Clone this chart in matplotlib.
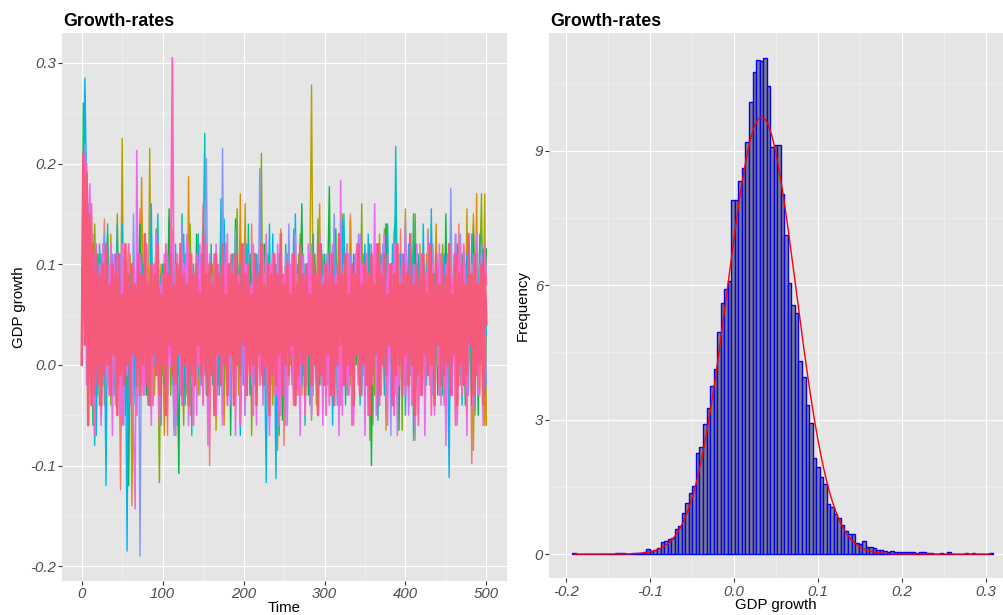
import numpy as np
import matplotlib
matplotlib.use("Agg")
import matplotlib.pyplot as plt

# ---------------------------------------------------------------------------
# Simulated GDP growth paths, one value every 2 periods (in percent)
# ---------------------------------------------------------------------------
time = np.arange(0, 501, 2)

path_01 = [0, 12, 18, 14, 9, 11, 4, 13, -2, 8, 5, 10, -3, 7, 14.5, 2, 6, -1, 9, 4,
           8, 0, 11, 3, -12.4, 6, 9, 1, 7, -6.5, 5, 10, 2, 8, -2, 6, 15.5, 3, 0, 9,
           4, -3, 7, 11, 1, 5, 9, -1, 6, 3, 10, 2, 7, -7, 8, 4, 13.5, 0, 5, 9,
           1, 6, -2, 10, 3, 8, 5, -5, 11, 2, 7, 4, 9, 0, 6, 16, -1, 5, 8, -10,
           3, 9, 1, 7, -3, 6, 10, 2, 5, 8, -2, 4, 11, 6, 0, 9, 3, 7, -5.5, 5,
           10, 1, 6, 8, -1, 14, 4, 2, 9, 5, 0, 7, 3, 11, -3, 6, 9, 1, 8, 4,
           -2, 10, 5, 2, 7, -8, 9, 3, 12, 1, 6, 8, -1, 4, 10, 2, 7, 5, -3, 9,
           3, 11, 0, 6, 8, 1, 13, 4, -2, 7, 9, 2, 5, -4, 10, 6, 1, 8, 3, 11,
           -1, 7, 4, 9, 2, -3, 15, 5, 8, 0, 6, 10, 3, -2, 7, 9, 1, 5, 11, 4,
           -6, 8, 2, 6, 12, 0, 7, 3, 9, -1, 5, 10, 4, 8, -3, 6, 2, 13.5, 1, 7,
           9, -2, 5, 3, 10, 6, -7.5, 8, 2, 12, 4, 0, 7, 9, 1, 6, -3, 10, 5, 3,
           8, -1, 11, 4, 6, 2, 9, -4, 7, 5, 10, 1, 6, 14, -2, 8, 3, 7, 0, 9,
           4, -9.8, 6, 11, 2, 8, -3, 5, 10, 1, -5.5]
path_02 = [0, 14, 16, 10, 12, 7, 15, 3, 9, -5, 6, 11, 2, 8, -4, 10, 5, 1, 13, 4,
           7, -2, 9, 3, 6, 11, 0, 8, 4, -6, 10, 2, 7, 5, -1, 9, 3, 18.6, 6, 1,
           8, 4, -3, 11, 2, 6, 9, 0, 5, 10, 3, -7, 8, 6, 1, 14, 4, 7, -2, 9,
           5, 0, 10, 3, 7, -3, 18.7, 2, 8, 6, 1, 9, 4, -2, 11, 5, 7, 3, 0, 8,
           6, 10, -1, 4, 8, 2, 15, 5, -6, 7, 3, 9, 1, 6, 11, -2, 7, 4, 17, 0,
           8, 5, 2, 10, -3, 6, 9, 1, 7, 4, -1, 11, 6, 3, 8, 0, 10, 5, 2, 9,
           7, -8.5, 4, 13.5, 1, 6, 9, 3, -2, 8, 5, 10, 0, 7, 4, 11, -3, 6, 2, 9,
           1, 8, 5, -1, 10, 3, 7, 16, 0, 6, 9, 4, -2, 8, 2, 11, 5, 1, 7, -5,
           10, 3, 6, 0, 9, 4, 14.5, -2, 7, 5, 2, 8, -3, 11, 6, 1, 9, 4, 10, 0,
           5, 7, 3, -1, 13, 6, 2, 8, -6.5, 9, 4, 10, 1, 7, 5, -2, 11, 3, 8, 6,
           15.5, 0, 9, 4, -3, 7, 2, 10, 5, 1, 8, 6, -1, 11, 3, 9, 4, 0, 7, 14,
           2, 5, 10, -2, 8, 4, 1, 9, 6, 3, 11, -5.5, 7, 5, 2, 10, 0, 8, 4, 6,
           9, 1, 15, 3, 17, -2, 6, 10, 4, -6, 3]
path_03 = [0, 10, 20, 13, 8, 16, 5, 11, 2, 7, -3, 9, 4, 12, 6, 1, 8, -2, 10, 3,
           7, 5, 0, 9, 4, 22.5, 2, 8, -4, 6, 11, -14, 3, 7, 1, 9, 5, -2, 10, 4,
           6, 0, 21.5, 3, 8, -3, 5, 9, 2, 7, -1, 10, 4, 6, 14.5, 1, 8, 3, -7, 9,
           5, 2, 11, 0, 7, 4, 9, -2, 6, 10, 3, 8, -3, 5, 1, 13.5, 6, 4, 9, 0,
           7, 2, 10, -6.5, 6, 3, 8, 11, 1, 5, 9, -1, 4, 7, 2, 10, 6, -3, 8, 3,
           5, 16, 0, 6, 9, 4, -2, 7, 1, 11, 3, 8, 5, -1, 10, 2, 6, 9, -4, 4,
           7, 1, 11, 5, 3, 8, -2, 6, 10, 0, 4, 9, 2, -3, 7, 13, 5, 1, 8, 6,
           -1, 10, 27.8, 3, 6, -4, 9, 4, 2, 11, 5, 0, 8, 6, 10, 3, -2, 7, 1, 9,
           4, 15, 2, 8, -3, 5, 10, 0, 6, 3, 9, -1, 7, 4, 11, 2, 6, 8, -7.5, 5,
           1, 10, 3, 7, 0, 9, 4, -2, 14, 6, 2, 8, 5, -3, 10, 1, 7, 4, 9, 3,
           6, -2, 11, 5, 0, 8, 3, 10, -5, 7, 4, 9, 1, 6, 13.5, -1, 5, 8, 2, 10,
           3, 7, -3, 9, 4, 0, 11, 6, 2, 8, 5, 1, 10, -2, 7, 4, 9, 3, 15.5, 0,
           6, 8, -8.5, 5, 10, 2, 7, 13, 3, 17, -6]
path_04 = [0, 16, 14, 18, 11, 6, 9, 2, 14, 5, 8, -2, 11, 4, 7, 1, 9, 6, -4, 10,
           3, 7, 15, 0, 5, 8, -1, 10, 4, 6, 2, 9, -3, 7, 4, 11, 1, 6, 8, -2,
           10, 5, 3, 9, 0, 7, 13.5, 2, -11.7, 6, 4, 8, 1, 11, 5, -3, 9, 3, 7, 0,
           6, 10, 2, -6, 8, 5, 1, 14, 4, 7, -1, 9, 3, 6, 11, 0, 8, 5, 2, 10,
           4, -2, 7, 1, 9, 6, 3, 11, -3, 5, 8, 2, 10, 4, 0, 7, 15.5, 1, 6, 9,
           -2, 5, 3, 11, 7, -7, 9, 2, 6, 10, 4, 21, 1, 8, 5, -1, 10, 3, 7, 0,
           9, 6, 2, 13, -3, 5, 8, 1, 10, 4, 7, -2, 6, 3, 11, 0, 9, 5, 2, 8,
           4, 10, -5.5, 7, 1, 6, 14.5, 3, 9, -1, 5, 8, 2, 11, 4, 0, 7, 10, -3, 6,
           3, 9, 5, 1, 12, 6, -2, 8, 4, 10, 0, 7, 3, 16, -1, 9, 5, 2, 11, 6,
           4, -3, 8, 1, 10, 6, 3, 13.5, -2, 7, 9, 2, 5, 11, 0, 8, 4, 7, -6.5, 10,
           3, 6, 1, 9, 5, -2, 15, 4, 8, 0, 7, 10, -3, 6, 2, 11, 5, 1, 9, 4,
           -1, 8, 3, 12, 6, 0, 10, 4, 7, 2, 9, 5, -2, 7, 11, 3, 6, 0, 10, 4,
           2, 8, 14, -5, 6, 3, 9, 17, 1, 7, 11.5]
path_05 = [0, 26, 17, 12, 15, 4, 10, -6, 8, 3, 11, 5, -3, 9, 2, 7, 13, 0, 6, 10,
           -2, 8, 4, 11, 1, 6, 9, -5, 7, -12, 5, 10, 2, 8, -1, 6, 14, 3, 9, 4,
           -3, 7, 1, 10, 5, 0, 8, 11, 2, 6, 9, -2, 4, 7, 15.5, 3, 6, -6, 10, 1,
           -10.8, 8, 5, 2, 11, 6, -1, 9, 4, 7, 3, 13, 0, 6, 9, 2, 8, -3, 5, 10,
           1, 7, 4, 11, -2, 6, 9, 3, 0, 8, 5, 10, -7, 7, 2, 14.5, 4, 6, 1, 9,
           3, -1, 8, 5, 11, 0, 7, 10, -3, 6, 2, 9, 4, 12, 1, 5, -2, 8, 6, 3,
           10, 0, 7, 4, -5.5, 9, 2, 11, 5, 1, 8, 6, -1, 10, 3, 7, 16, 0, 4, 9,
           -3, 5, 2, 8, 11, 1, 6, -2, 10, 4, 7, 3, 9, 17.7, 0, 6, 4, 13.5, -4, 8,
           2, 10, 5, 1, 7, -1, 9, 3, 11, 6, 0, 8, 4, -3, 10, 6, 2, 9, 5, -10,
           7, 1, 11, 4, 6, -2, 8, 3, 14, 5, 9, 0, 6, 2, 10, 4, -6.5, 7, 1, 11,
           5, 8, 3, -1, 9, 6, 12, 2, 7, 0, 10, 4, -2, 8, 1, 6, 11, 3, 9, 5,
           -3, 7, 2, 10, 4, 15, 0, 6, 8, 1, 5, 9, -1, 7, 3, 11, 6, -4, 10, 2,
           8, 4, 13, 0, 6, -5, 9, 3, 11.5, 5, 11.5]
path_06 = [0, 15, 19, 11, 16, 9, 3, 12, 1, 6, 10, -4, 7, 2, 9, 5, 14, -1, 8, 3,
           6, 11, 0, 4, 8, -3, 10, 2, 7, 5, 1, 9, 6, -2, 11, 3, 7, 4, 10, 0,
           8, 2, 5, 13.5, -1, 6, 9, 3, 7, -6, 10, 4, 1, 8, 6, 11, -2, 5, 9, 2,
           7, 0, 15, 3, -3, 9, 5, 8, 1, 10, 4, 6, -1, 11, 2, 8, 5, 0, 9, 3,
           12, -2, 6, 4, 10, 1, 7, -5, 8, 5, 2, 9, 3, 11, 6, -1, 10, 4, 7, 0,
           8, 5, 2, 14, -3, 7, 1, 9, 4, 6, 10, -1, 5, 3, 8, 11, 0, 6, 9, 2,
           4, 7, -7, 10, 5, 1, 12, 3, 8, 6, -2, 9, 2, 7, 4, 11, 6, -1, 10, 3,
           8, 5, 0, 13, 3, 7, -3, 9, 1, 6, 11, 4, 8, 2, -2, 10, 5, 7, 0, 9,
           3, 14.5, 6, -4, 8, 1, 10, 4, 7, 2, 9, 0, 11, 5, 3, 8, -2, 6, 12, 4,
           1, 7, 10, -5.5, 5, 9, 2, 11, 6, 0, 8, 4, 6, 13, 15, 3, -1, 9, 5, 10,
           2, 7, -4, 8, 4, 15, 1, 6, 11, 3, 9, 5, 0, 10, 7, -2, 14, 4, 8, 1,
           6, 11, 3, -3, 9, 5, 2, 10, 7, 0, 8, 4, 12, 6, -1, 9, 3, 7, 11, 2,
           5, -4, 10, 1, 8, 6, 13, 3, 7, -3, 6]
path_07 = [0, 18, 24, 15, 10, 13, 5, 9, -8, 7, 3, 12, 6, -2, 9, 4, 11, 1, 7, 10,
           -3, 6, 2, 9, 5, 14, 0, 8, 4, -6, 7, 10, 3, 6, 1, 9, -2, 11, 5, 8,
           2, -4, 7, 4, 10, 0, 6, 15, 3, 9, 5, 1, 11, -3, 8, 6, 2, 9, 4, 10,
           -1, 7, 3, 13, 5, 0, 9, 6, -7, 8, 4, 10, 2, 7, -2, 11, 23, 5, 1, 9,
           6, 3, -3, 10, 8, 2, 16.5, 4, 0, 7, 9, 5, 1, 11, -1, 6, 3, 8, 10, 2,
           7, -5, 12, 4, 6, 9, 0, 5, 11, 3, 8, 1, 10, -2, 6, 4, 14, 2, 7, 9,
           0, 5, 11, 3, -3, 8, 6, 10, 1, 7, 4, 13.5, -1, 9, 2, 6, 10, 5, -6, 8,
           3, 7, 1, 11, 6, -2, 9, 4, 12, 0, 10, 5, 2, 8, -3, 7, 11, 1, 6, 9,
           3, -1, 15, 5, 8, 0, 10, 4, 7, 2, 11, 6, -4, 9, 3, 7, 1, 13, 5, 8,
           -2, 10, 4, 6, 2, 11, 8, -3, 9, 5, 7, 0, 12, 3, 21.7, 6, 1, 10, 4, -1,
           9, 5, 8, 2, 11, -7.5, 6, 3, 10, 7, 1, 14, 4, -2, 8, 5, 9, 0, 6, 11,
           3, 7, -3, 10, 2, 9, 5, 12, 1, 6, 8, -1, 11, 4, 7, 0, 10, 3, 5, 9,
           2, 13, 6, -4, 9, 3, 7, 11, 0, 8, 4]
path_08 = [0, 20, 28.5, 17, 14, 8, 12, 3, 10, -7, 6, 11, 2, 9, 5, -12, 7, 1, 10, 4,
           8, -3, 14, 3, 6, 0, 9, 5, -18.5, 7, 2, 10, 4, -4, 8, 11, 1, 6, 3, 9,
           -2, 7, 5, 16, 0, 8, 4, 10, 2, 6, 9, 3, -1, 11, 6, 1, 8, 4, 12, -6,
           5, 10, 2, 7, -4, 9, 3, 11, 6, 0, 8, 4, 13, 1, 6, -2, 10, 5, 3, 9,
           0, 7, 11, 4, 9, -3, 5, 2, 14.5, 6, 3, 10, -1, 8, 5, 1, 11, 7, -7, 4,
           9, 2, 6, 12, 0, 8, 4, -2, 10, 5, 3, 11, 7, 1, -11.7, 6, 9, 2, 13, 4,
           -11.3, 8, 5, 10, 3, 7, -3, 11, 1, 6, 9, 4, 15, 0, 7, 5, -2, 10, 3, 8,
           6, -4, 11, 2, 9, 4, 7, 1, 12, 5, 0, 10, 3, 8, 6, -6, 11, 4, 9, 2,
           7, 13.5, -1, 5, 10, 3, 8, 0, 6, 11, 4, -2, 9, 2, 7, 12, 5, -4, 10, 3,
           8, 1, 6, 11, 4, 0, 9, 7, -3, 14, 5, 2, 10, 6, -1, 8, 3, 11, 4, 9,
           -5, 7, 12, 1, 6, 10, 3, -2, 8, 5, 11, 0, 7, 4, 9, 2, 15.5, -3, 6, 10,
           3, 8, 5, -1, 11, 6, 2, -11.2, 9, 4, 7, 13, 0, 10, 3, -4, 8, 5, 11, 1,
           6, 9, -2, 4, 12, 7, 2, 10, -5, 8, 3]
path_09 = [0, 17, 22, 19, 9, 14, 6, 10, 1, 8, 4, -3, 10, 6, 13, 2, 8, -1, 7, 11,
           3, 9, 5, 0, 11, 6, -6, 8, 2, 10, 7, 1, 15, 4, -2, 9, -19, 6, 3, 11,
           0, 8, 5, -3, 10, 2, 7, 12, 4, 6, 9, -1, 3, 11, 5, 8, 1, -7, 10, 6,
           2, 7, 14, 4, 0, 9, 5, 11, -2, 8, 6, 3, 10, -3, 7, 1, 12, 20.5, 4, 9,
           -1, 5, 11, 2, 8, 6, 0, 21.5, 3, 10, 7, 4, -4, 9, 1, 13.5, 5, 8, 2, -2,
           10, 6, 3, 11, 0, 7, 4, 9, -3, 5, 19.5, 2, 8, 6, 12, 1, 10, -2, 7, 4,
           9, 0, 5, 11, 3, 8, -6, 6, 14, 2, 7, 10, 1, 4, -1, 9, 6, 11, 3, 0,
           8, 5, 12, -3, 7, 2, 10, 4, 6, 9, -2, 11, 3, 8, 1, 6, 15, 5, -4, 7,
           10, 4, 0, 9, 6, 2, 11, -1, 8, 3, 5, 13, 7, -3, 10, 4, 1, 9, 6, 0,
           11, 3, 8, 5, -2, 7, 12, 2, 9, 4, 6, -7, 10, 1, 8, 11, 3, 7, 0, 5,
           14.5, 2, 9, -1, 6, 4, 10, 8, 3, -3, 7, 11, 5, 1, 9, 6, -2, 12, 4, 8,
           0, 10, 3, 7, 5, -4, 11, 2, 17.5, 6, 9, 4, -1, 8, 13, 1, 6, 10, 3, -3,
           7, 5, 11, 2, 9, 0, 6, 12, 4, 8, -2]
path_10 = [0, 13, 21, -2, 12, 18, 7, -4, 11, 3, 9, 1, -6, 12, 5, 8, -2, 10, 4, -7,
           11, 6, 2, 9, -5, 12, 3, 7, -1, 10, 4, 8, -7, -14.3, 21.3, 5, 11, 0, 9, -3,
           12, 6, 2, -6, 10, 4, 13, 1, -5, 8, 3, 11, -4, 7, 9, 0, 12, 5, -7, 10,
           6, -3, 11, 2, 8, 13, -6, 4, 10, 1, 9, -5, 7, 12, 3, -2, 10, 6, -8, 11,
           4, 8, -4, 12, 1, 9, 5, -6, 10, 2, 13, -3, 7, 4, 11, -7, 6, 9, 0, 12,
           5, -5, 10, 3, 8, -2, 12, 6, -6, 9, 1, 11, -4, 7, 13, 2, -7, 10, 4, 8,
           -3, 12, 6, -5, 9, 3, 11, -6, 7, 10, 2, -4, 13, 5, 8, -7, 11, 4, 9, -2,
           12, 6, -5, 10, 1, 8, -3, 13, 5, -6, 9, 3, 11, -4, 7, 12, -2, 6, 10, -7,
           18.3, -5, 9, 4, 12, -3, 7, 10, -6, 11, 5, -2, 13, 1, 8, -7, 10, 6, -4, 12,
           3, 16, -5, 11, 7, -3, 9, 13, 2, -6, 10, 5, -4, 12, 8, -7, 11, 3, 9, -2,
           13, 6, -5, 10, 2, 8, -6, 12, 4, -3, 9, 11, -7, 5, 13, -2, 7, 10, -5, 8,
           3, 12, -4, 9, 6, -8, 11, 1, 10, -3, 7, 13, -6, 4, 12, -2, 9, 6, -7, 11,
           2, 10, -5, 8, 13, -3, 6, 11, -6, 9, 5]
path_11 = [0, 15, 4, 20, 13, 9, 16, 4, -7, 12, 2, 10, -5, 8, 11, 0, 7, -3, 12, 5,
           9, -4, 11, 3, 7, -6, 10, 1, 8, 12, -2, 6, 10, 4, -5, 11, 2, 9, -3, 7,
           12, 0, 8, 5, -4, 10, 3, 11, -6, 6, 9, 1, 12, -3, 7, 10, 30.5, 4, -5, 11,
           2, 8, -4, 10, 6, -2, 12, 3, 9, -6, 7, 11, 0, 5, 10, -4, 8, 12, 1, -3,
           9, 4, 11, -5, 6, 10, -2, 8, 3, 12, -4, 7, 10, 1, 11, -3, 6, 9, -6, 8,
           12, 2, -3, 10, 5, 8, -5, 11, 4, 7, -2, 9, 12, 0, 7, -4, 10, 6, 11, -3,
           5, 8, -6, 12, 3, 9, -2, 7, 10, 1, 11, -4, 6, 9, -3, 12, 4, 8, -5, 10,
           2, 7, 11, -2, 9, 5, -4, 12, 6, 0, 10, -5, 8, 3, 11, -3, 7, 9, 1, 12,
           -4, 6, 10, 4, -2, 11, 8, -6, 9, 5, 12, 0, -3, 10, 7, 2, 11, -5, 8, 6,
           -2, 9, 12, 3, -4, 10, 5, 8, -3, 11, 7, 1, 10, -5, 9, 12, -2, 6, 11, 4,
           -3, 8, 5, 12, -4, 10, 2, 9, -6, 7, 11, 3, -2, 9, 6, 12, -5, 8, 1, 10,
           4, -3, 11, 7, -4, 10, 5, 12, -2, 8, 9, -6, 6, 11, 2, -3, 12, 7, -5, 10,
           3, 8, -4, 11, 6, -2, 10, 9, -3, 12, 8]
path_12 = [0, 21, 2, 19, -6, 15, -4, 12, -3, 11, -2, 9, -4, 10, -1, 12, 0, 8, -3, 10,
           1, 9, -5, 11, -1, 7, -2, 12, 0, 9, -4, 10, 1, 8, -2, 11, -3, 9, 0, 13,
           -2, 8, -4, 10, 1, 9, -1, 12, -3, 7, 0, 10, -5, 9, 2, 11, -1, 8, -2, 10,
           1, 12, -3, 9, 0, 8, -4, 11, -1, 9, -2, 10, 2, 7, -1, 13, 0, 9, -3, 10,
           -1, 8, -5, 11, 1, 9, -2, 12, 0, 7, -3, 10, 1, 9, -4, 11, 0, 8, -1, 12,
           2, 9, -3, 10, -1, 7, 0, 11, -4, 9, 1, 12, -2, 8, 0, 10, -5, 9, -1, 11,
           -2, 9, 1, 13, -3, 8, 0, 10, -1, 7, 2, 11, -4, 8, -1, 12, 0, 9, -3, 10,
           1, 7, -2, 11, 0, 9, -5, 12, -1, 8, -2, 10, 1, 9, -3, 11, -4, 8, 0, 13,
           2, 9, -2, 11, 0, 7, -1, 10, -4, 9, 1, 12, -3, 8, 0, 10, -2, 9, -5, 11,
           -1, 8, 1, 12, -3, 9, 0, 11, -1, 7, 2, 10, -4, 9, -1, 12, 0, 8, -3, 10,
           1, 9, -2, 13, 0, 8, -5, 10, -1, 9, -3, 11, 1, 7, -1, 12, 0, 9, -4, 11,
           2, 8, -2, 10, -1, 9, 0, 12, -3, 7, 1, 11, -4, 9, 0, 10, -2, 8, -1, 13,
           2, 9, -3, 11, -1, 8, 0, 10, -4, 9, 4]

all_paths = [path_01, path_02, path_03, path_04, path_05, path_06,
             path_07, path_08, path_09, path_10, path_11, path_12]

# ---------------------------------------------------------------------------
# Pooled growth-rate histogram (density per bin) and fitted normal
# ---------------------------------------------------------------------------
bin_start = -0.1923
bin_width = 0.00421
density = [0.03, 0.00, 0.00, 0.00, 0.00, 0.00, 0.00, 0.00, 0.00, 0.00,
           0.00, 0.01, 0.02, 0.02, 0.02, 0.00, 0.01, 0.02, 0.03, 0.03,
           0.04, 0.11, 0.08, 0.09, 0.14, 0.28, 0.29, 0.34, 0.36, 0.55,
           0.63, 0.91, 1.13, 1.37, 1.52, 2.25, 2.40, 2.90, 3.25, 3.75,
           4.13, 4.95, 5.60, 5.92, 6.09, 7.90, 7.91, 8.32, 8.62, 9.20,
           10.10, 10.75, 11.03, 11.00, 11.08, 10.44, 9.08, 9.12, 9.14, 8.04,
           7.13, 6.05, 5.55, 5.38, 4.31, 3.96, 3.33, 2.93, 2.14, 1.95,
           1.73, 1.56, 1.11, 1.06, 0.89, 0.80, 0.64, 0.52, 0.44, 0.45,
           0.24, 0.22, 0.29, 0.16, 0.15, 0.13, 0.09, 0.09, 0.07, 0.05,
           0.07, 0.05, 0.05, 0.05, 0.04, 0.04, 0.04, 0.03, 0.04, 0.04,
           0.02, 0.02, 0.01, 0.01, 0.02, 0.01, 0.04, 0.01, 0.00, 0.01,
           0.01, 0.02, 0.01, 0.02, 0.01, 0.00, 0.01, 0.00, 0.02]
fit_mean = 0.0333
fit_sd = 0.0409
growth_min, growth_max = -0.19, 0.305

# ---------------------------------------------------------------------------
# Styling
# ---------------------------------------------------------------------------
line_colors = ["#F8766D", "#DE8C00", "#B79F00", "#7CAE00", "#00BA38", "#00C08B",
               "#00BFC4", "#00B4F0", "#8494FF", "#E76BF3", "#FF61C3", "#F55A7A"]
line_widths = [1.0] * 9 + [1.15, 1.35, 1.8]
panel_bg = "#E5E5E5"
plt.rcParams["font.family"] = ["Liberation Sans", "DejaVu Sans"]

W, H = 1004, 615
fig = plt.figure(figsize=(W / 100, H / 100), dpi=100)
fig.patch.set_facecolor("white")


def px_axes(x0, x1, y_top, y_bot):
    return fig.add_axes([x0 / W, (H - y_bot) / H, (x1 - x0) / W, (y_bot - y_top) / H])


def style_axes(ax, xmajor, xminor, ymajor, yminor, xfmt, yfmt):
    ax.set_facecolor(panel_bg)
    for s in ax.spines.values():
        s.set_visible(False)
    ax.set_xticks(xmajor)
    ax.set_xticks(xminor, minor=True)
    ax.set_yticks(ymajor)
    ax.set_yticks(yminor, minor=True)
    ax.set_xticklabels([xfmt(v) for v in xmajor])
    ax.set_yticklabels([yfmt(v) for v in ymajor])
    ax.grid(True, which="major", color="white", linewidth=0.85, zorder=0)
    ax.grid(True, which="minor", color="#F2F2F2", linewidth=0.45, zorder=0)
    ax.set_axisbelow(True)
    ax.tick_params(which="major", length=3.0, width=0.8, color="#333333",
                   labelcolor="#4D4D4D", labelsize=10.8, pad=1.5)
    ax.tick_params(which="minor", length=0)
    for lab in ax.get_xticklabels() + ax.get_yticklabels():
        lab.set_fontstyle("italic")


# ---------------- left panel: growth paths ----------------
ax1 = px_axes(62.3, 507, 33, 581)
for vals, col, lw in zip(all_paths, line_colors, line_widths):
    n = min(len(vals), len(time))
    ax1.plot(time[:n], np.asarray(vals[:n], dtype=float) / 100.0,
             color=col, linewidth=lw, solid_joinstyle="round", zorder=2)
ax1.set_xlim(-24, 525.5)
ax1.set_ylim(growth_min - 0.02475, growth_max + 0.02475)
style_axes(ax1,
           [0, 100, 200, 300, 400, 500], [50, 150, 250, 350, 450],
           [-0.2, -0.1, 0.0, 0.1, 0.2, 0.3], [-0.15, -0.05, 0.05, 0.15, 0.25],
           lambda v: f"{v:g}", lambda v: f"{v:.1f}")

# ---------------- right panel: histogram ----------------
ax2 = px_axes(549.3, 1004, 33, 578.3)
edges = bin_start + bin_width * np.arange(len(density))
ax2.bar(edges, density, width=bin_width, align="edge", color="#7F7F7F",
        edgecolor="#0000FF", linewidth=1.0, zorder=2)
xs = np.linspace(growth_min, growth_max, 600)
pdf = np.exp(-0.5 * ((xs - fit_mean) / fit_sd) ** 2) / (fit_sd * np.sqrt(2 * np.pi))
ax2.plot(xs, pdf, color="#FF0000", linewidth=1.0, zorder=3)
ax2.set_xlim(-0.2195, 0.3218)
ax2.set_ylim(-0.54, 11.63)
style_axes(ax2,
           [-0.2, -0.1, 0.0, 0.1, 0.2, 0.3], [-0.15, -0.05, 0.05, 0.15, 0.25],
           [0, 3, 6, 9], [1.5, 4.5, 7.5, 10.5],
           lambda v: f"{v:.1f}", lambda v: f"{v:g}")

# ---------------- titles and axis labels ----------------
title_kw = dict(fontsize=12.8, fontweight="bold", color="black", va="baseline", ha="left")
fig.text(62.8 / W, 1 - 25.5 / H, "Growth-rates", **title_kw)
fig.text(549.8 / W, 1 - 25.5 / H, "Growth-rates", **title_kw)

lab_kw = dict(fontsize=10.8, color="black")
fig.text(284.6 / W, 1 - 607.5 / H, "Time", ha="center", va="center", **lab_kw)
fig.text(776 / W, 1 - 605.5 / H, "GDP growth", ha="center", va="center", **lab_kw)
fig.text(19 / W, 1 - 307 / H, "GDP growth", ha="center", va="center", rotation=90, **lab_kw)
fig.text(523 / W, 1 - 305.6 / H, "Frequency", ha="center", va="center", rotation=90, **lab_kw)

fig.savefig("out.png", dpi=100)
